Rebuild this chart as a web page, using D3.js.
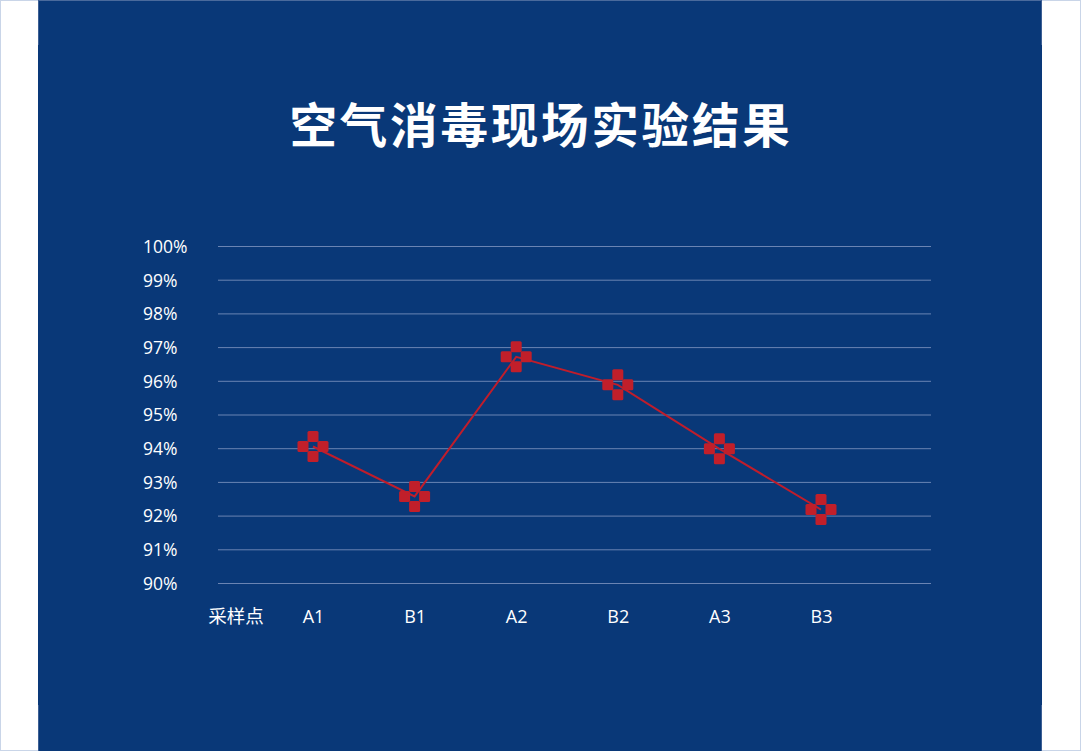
<!DOCTYPE html>
<html><head><meta charset="utf-8">
<script src="https://cdn.jsdelivr.net/npm/d3@7"></script>
<style>html,body{margin:0;padding:0;background:#fff;}svg{display:block;}</style>
</head><body>
<script>
const title = "空气消毒现场实验结果";
const axisTitle = "采样点";
const categories = ["A1","B1","A2","B2","A3","B3"];
const values = [94.05, 92.57, 96.71, 95.88, 93.98, 92.18];
const yTicks = [90,91,92,93,94,95,96,97,98,99,100];

const W = 1081, H = 751;
const svg = d3.select("body").append("svg").attr("width", W).attr("height", H);

svg.append("rect").attr("x",0.5).attr("y",0.5).attr("width",W-1).attr("height",H-1)
  .attr("fill","#fff").attr("stroke","#c9d5e8");
svg.append("rect").attr("x",38).attr("y",0).attr("width",1004).attr("height",H).attr("fill","#093878");
svg.append("line").attr("x1",38).attr("x2",1042).attr("y1",0.5).attr("y2",0.5).attr("stroke","#4a6a9c");
[[38.5,0,45],[38.5,705,751],[1041.5,0,45],[1041.5,705,751]].forEach(d=>{
  svg.append("line").attr("x1",d[0]).attr("x2",d[0]).attr("y1",d[1]).attr("y2",d[2]).attr("stroke","#3d5f94");
});

svg.append("text").attr("x",541).attr("y",143).attr("text-anchor","middle")
  .attr("font-family","'Noto Sans CJK SC'").attr("font-weight",700).attr("font-size",47.5)
  .attr("letter-spacing",2.8).attr("fill","#fff").text(title);

const y = d3.scaleLinear().domain([90,100]).range([583,246]);
const x = d3.scalePoint().domain(categories).range([313,821]);

const yAxis = d3.axisLeft(y).tickValues(yTicks).tickSize(-(931-218)).tickFormat(d=>d+"%");
const gy = svg.append("g").attr("transform","translate(218,0)").call(yAxis);
gy.select(".domain").remove();
gy.selectAll(".tick line").attr("stroke","#6a84b3").attr("stroke-width",1);
gy.selectAll(".tick text").attr("x",-75).attr("dy","0.36em").attr("text-anchor","start")
  .attr("fill","#fff").attr("font-family","'Open Sans', 'Noto Sans'").attr("font-size",17.5);

const xAxis = d3.axisBottom(x).tickSize(0).tickPadding(0);
const gx = svg.append("g").attr("transform","translate(0,623)").call(xAxis);
gx.select(".domain").remove();
gx.selectAll(".tick text").attr("dy",0).attr("fill","#fff")
  .attr("font-family","'Open Sans', 'Noto Sans'").attr("font-size",18);

svg.append("text").attr("x",236).attr("y",623).attr("text-anchor","middle")
  .attr("fill","#fff").attr("font-family","'Noto Sans CJK SC'").attr("font-size",18.5).text(axisTitle);

const pts = categories.map((c,i)=>({c, v: values[i]}));
svg.append("path").datum(pts)
  .attr("d", d3.line().x(d=>x(d.c)).y(d=>y(d.v)))
  .attr("fill","none").attr("stroke","#c01d2b").attr("stroke-width",2);

const offs = [[0,-10],[0,10],[-10,0],[10,0]];
const mg = svg.append("g").selectAll("g").data(pts).join("g")
  .attr("transform", d=>`translate(${x(d.c)},${y(d.v)})`);
mg.selectAll("rect").data(offs).join("rect")
  .attr("x", d=>d[0]-5.5).attr("y", d=>d[1]-5.5).attr("width",11).attr("height",11)
  .attr("rx",1.5).attr("fill","#c11f2a");
</script>
</body></html>
